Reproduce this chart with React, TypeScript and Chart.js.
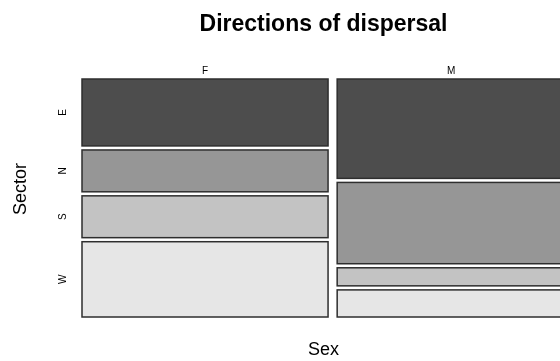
import { useEffect, useRef } from 'react';
import { Chart, registerables } from 'chart.js';

Chart.register(...registerables);

// ---- data ----
const sexes = ['F', 'M'];
const sectors = ['E', 'N', 'S', 'W'];
const countsF = [16, 10, 10, 18];
const countsM = [22, 18, 4, 6];
const titleText = 'Directions of dispersal';
const xLabel = 'Sex';
const yLabel = 'Sector';

// ---- styles ----
const sectorColors = ['#4D4D4D', '#969696', '#C3C3C3', '#E6E6E6'];
const FONT = '"Liberation Sans", Arial, Helvetica, sans-serif';
const GAP_X = 2; // in count units
const GAP_Y = 0.017; // fraction of plot height

const sum = (a: number[]) => a.reduce((s, v) => s + v, 0);

const mosaicPlugin = {
  id: 'mosaic',
  afterDatasetsDraw(chart: any) {
    const { ctx, chartArea } = chart;
    const xs = chart.scales.x;
    const ys = chart.scales.y;
    const columns = [countsF, countsM];
    ctx.save();
    let xStart = 0;
    columns.forEach((col, ci) => {
      const colTotal = sum(col);
      const x0 = xs.getPixelForValue(xStart);
      const x1 = xs.getPixelForValue(xStart + colTotal);
      const avail = 1 - GAP_Y * (col.length - 1);
      let yStart = 0;
      col.forEach((v, si) => {
        const h = (v / colTotal) * avail;
        const y0 = ys.getPixelForValue(yStart);
        const y1 = ys.getPixelForValue(yStart + h);
        ctx.fillStyle = sectorColors[si];
        ctx.fillRect(x0, y0, x1 - x0, y1 - y0);
        ctx.lineWidth = 1.5;
        ctx.strokeStyle = '#2e2e2e';
        ctx.strokeRect(x0, y0, x1 - x0, y1 - y0);
        if (ci === 0) {
          ctx.save();
          ctx.translate(chartArea.left - 19, (y0 + y1) / 2);
          ctx.rotate(-Math.PI / 2);
          ctx.fillStyle = '#000';
          ctx.font = `10px ${FONT}`;
          ctx.textAlign = 'center';
          ctx.textBaseline = 'middle';
          ctx.fillText(sectors[si], 0, 0);
          ctx.restore();
        }
        yStart += h + GAP_Y;
      });
      ctx.fillStyle = '#000';
      ctx.font = `10px ${FONT}`;
      ctx.textAlign = 'center';
      ctx.textBaseline = 'middle';
      ctx.fillText(sexes[ci], (x0 + x1) / 2, chartArea.top - 8);
      xStart += colTotal + GAP_X;
    });
    // y-axis label
    ctx.save();
    ctx.translate(21, chartArea.top + 110);
    ctx.rotate(-Math.PI / 2);
    ctx.fillStyle = '#000';
    ctx.font = `18px ${FONT}`;
    ctx.textAlign = 'center';
    ctx.textBaseline = 'middle';
    ctx.fillText(yLabel, 0, 0);
    ctx.restore();
    ctx.restore();
  },
};

export default function App() {
  const ref = useRef<HTMLCanvasElement | null>(null);
  useEffect(() => {
    if (!ref.current) return;
    const total = sum(countsF) + sum(countsM);
    const chart = new Chart(ref.current, {
      type: 'scatter',
      data: { datasets: [{ data: [] }] },
      options: {
        animation: false,
        responsive: false,
        devicePixelRatio: 1,
        layout: { padding: { left: 82, right: 7, top: 0, bottom: 0 } },
        scales: {
          x: { type: 'linear', min: 0, max: total + GAP_X, display: false },
          y: { type: 'linear', min: 0, max: 1, reverse: true, display: false },
        },
        plugins: {
          legend: { display: false },
          tooltip: { enabled: false },
          title: {
            display: true,
            text: titleText,
            color: '#000',
            font: { family: FONT, size: 23, weight: 'bold', lineHeight: 1.2 },
            padding: { top: 10.7, bottom: 40.7 },
          },
          subtitle: {
            display: true,
            position: 'bottom',
            text: xLabel,
            color: '#000',
            font: { family: FONT, size: 18, weight: 'normal', lineHeight: 1.2 },
            padding: { top: 22.2, bottom: 0.2 },
          },
        },
      },
      plugins: [mosaicPlugin],
    } as any);
    return () => chart.destroy();
  }, []);
  return (
    <div
      style={{
        position: 'fixed',
        left: 0,
        top: 0,
        width: 560,
        height: 361,
        overflow: 'hidden',
        background: '#fff',
      }}
    >
      <canvas ref={ref} width={572} height={361} style={{ display: 'block' }} />
    </div>
  );
}
